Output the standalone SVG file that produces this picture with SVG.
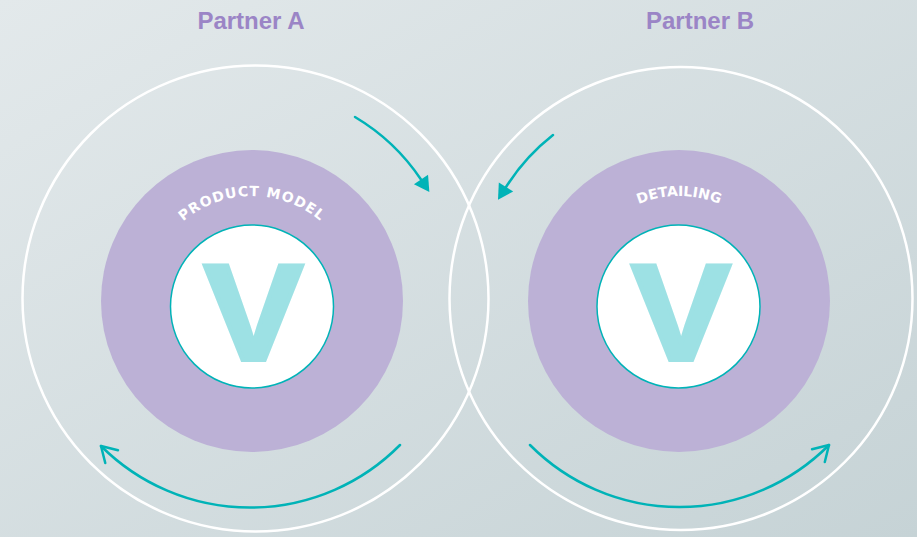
<svg xmlns="http://www.w3.org/2000/svg" width="917" height="537" viewBox="0 0 917 537">
  <defs>
    <linearGradient id="bg" x1="0" y1="0" x2="1" y2="1">
      <stop offset="0" stop-color="#e3e9eb"/>
      <stop offset="1" stop-color="#c6d3d6"/>
    </linearGradient>
    <marker id="tri" markerUnits="userSpaceOnUse" markerWidth="20" markerHeight="20" viewBox="0 -10 16 20" refX="0" refY="0" orient="auto" overflow="visible">
      <path d="M0,-8.5 L15,0 L0,8.5 Z" fill="#00b3b7"/>
    </marker>
    <marker id="chev" markerUnits="userSpaceOnUse" markerWidth="20" markerHeight="20" viewBox="-16 -10 18 20" refX="0" refY="0" orient="auto" overflow="visible">
      <path d="M-15,-9 L0,0 L-15,9" fill="none" stroke="#00b3b7" stroke-width="2.5" stroke-linecap="round" stroke-linejoin="round"/>
    </marker>
    <path id="arcA" d="M146,302 A106,106 0 0 1 358,302"/>
    <path id="arcB" d="M573,302 A106,106 0 0 1 785,302"/>
  </defs>
  <style>
    .title { font-family: "Liberation Sans", Arial, sans-serif; font-weight: 700; font-size: 24px; fill: #9b85c6; text-anchor: middle; }
    .outer { fill: none; stroke: #ffffff; stroke-width: 2.5; }
    .ring { fill: #bcb1d6; }
    .core { fill: #ffffff; stroke: #00b3b7; stroke-width: 1.5; }
    .v { font-family: "Liberation Sans", Arial, sans-serif; font-weight: 700; font-size: 138px; fill: #9de1e4; stroke: #9de1e4; stroke-width: 4; stroke-linejoin: miter; text-anchor: middle; }
    .arcText { font-family: "DejaVu Sans", sans-serif; font-weight: 700; font-size: 14px; fill: #ffffff; }
    .conn { fill: none; stroke: #00b3b7; stroke-width: 2.5; stroke-linecap: round; }
  </style>

  <rect width="917" height="537" fill="url(#bg)"/>

  <g id="partner-a">
    <text class="title" x="251" y="29">Partner A</text>
    <circle class="outer" cx="255.5" cy="298.5" r="233"/>
    <circle class="ring" cx="252" cy="301" r="151"/>
    <circle class="core" cx="252" cy="306.5" r="81.5"/>
    <text class="v" transform="translate(253.5,360) scale(1.08,1)">V</text>
    <text class="arcText" letter-spacing="1"><textPath href="#arcA" startOffset="50%" text-anchor="middle">PRODUCT MODEL</textPath></text>
  </g>

  <g id="partner-b">
    <text class="title" x="700" y="29">Partner B</text>
    <circle class="outer" cx="681" cy="298.5" r="231.5"/>
    <circle class="ring" cx="679" cy="301" r="151"/>
    <circle class="core" cx="678.5" cy="306.5" r="81.5"/>
    <text class="v" transform="translate(681,360) scale(1.08,1)">V</text>
    <text class="arcText"><textPath href="#arcB" startOffset="50%" text-anchor="middle">DETAILING</textPath></text>
  </g>

  <g id="connectors">
    <path class="conn" d="M355,117 A207,207 0 0 1 421,179.5" marker-end="url(#tri)"/>
    <path class="conn" d="M553,135 A205,205 0 0 0 506,187" marker-end="url(#tri)"/>
    <path class="conn" d="M400,445 A211,211 0 0 1 101,446" marker-end="url(#chev)"/>
    <path class="conn" d="M530,445 A211,211 0 0 0 829,445" marker-end="url(#chev)"/>
  </g>
</svg>
